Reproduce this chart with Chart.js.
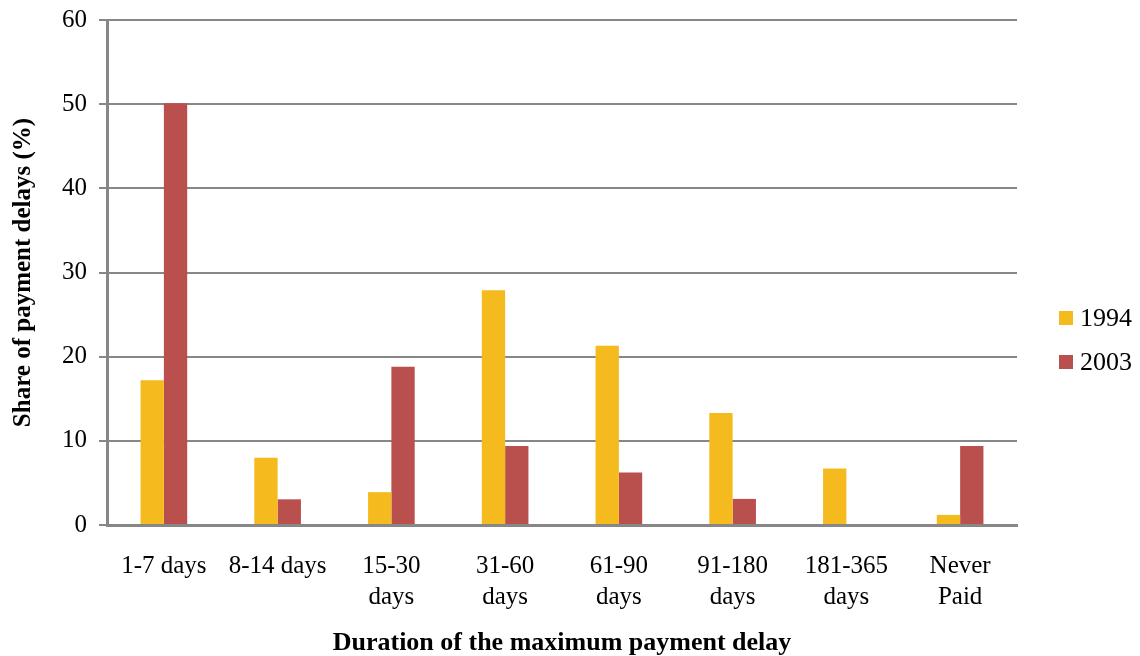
<!DOCTYPE html>
<html>
<head>
<meta charset="utf-8">
<script src="https://cdn.jsdelivr.net/npm/chart.js@4/dist/chart.umd.min.js"></script>
<style>
  html, body { margin: 0; padding: 0; background: #fff; }
</style>
</head>
<body>
<canvas id="chart" width="1140" height="656"></canvas>
<script>
// Payment delay shares, 1994 vs 2003
const categories = [
  "1-7 days", "8-14 days", ["15-30", "days"], ["31-60", "days"],
  ["61-90", "days"], ["91-180", "days"], ["181-365", "days"], ["Never", "Paid"],
];
const share1994 = [17.2, 8.0, 3.9, 27.9, 21.3, 13.3, 6.7, 1.2];
const share2003 = [50.1, 3.05, 18.8, 9.4, 6.25, 3.1, 0, 9.4];
const yTicks = [0, 10, 20, 30, 40, 50, 60];

const FONT = "'Liberation Serif', 'Times New Roman', serif";
const GRID = "#878787";

// legend sits well right of the plot, so draw it by hand
const sideLegend = {
  id: "sideLegend",
  afterDraw(chart) {
    const { ctx } = chart;
    const x = 1059;
    const ys = [318, 362];
    ctx.save();
    ctx.font = `26px ${FONT}`;
    ctx.textBaseline = "middle";
    chart.data.datasets.forEach((ds, i) => {
      ctx.fillStyle = ds.backgroundColor;
      ctx.fillRect(x, ys[i] - 7, 14, 14);
      ctx.fillStyle = "#000";
      ctx.fillText(ds.label, x + 21, ys[i] + 1);
    });
    ctx.restore();
  },
};

new Chart(document.getElementById("chart").getContext("2d"), {
  type: "bar",
  data: {
    labels: categories,
    datasets: [
      { label: "1994", data: share1994, backgroundColor: "#F5BB1E" },
      { label: "2003", data: share2003, backgroundColor: "#BA504E" },
    ],
  },
  plugins: [sideLegend],
  options: {
    responsive: false,
    animation: false,
    categoryPercentage: 0.41,
    barPercentage: 1,
    layout: { padding: { top: 20, right: 123, bottom: 0, left: 0 } },
    plugins: {
      legend: { display: false },
      tooltip: { enabled: false },
    },
    scales: {
      x: {
        grid: { display: false, drawTicks: false },
        border: { color: GRID, width: 3 },
        ticks: {
          color: "#000",
          font: { family: FONT, size: 25, lineHeight: 1.25 },
          padding: 26,
          maxRotation: 0,
          autoSkip: false,
        },
        title: {
          display: true,
          text: "Duration of the maximum payment delay",
          color: "#000",
          font: { family: FONT, size: 26, weight: "bold", lineHeight: 1 },
          padding: { top: 14, bottom: 0 },
        },
        afterFit: (s) => { s.height = 131; },
      },
      y: {
        min: 0,
        max: 60,
        afterBuildTicks: (s) => { s.ticks = yTicks.map((v) => ({ value: v })); },
        grid: { color: GRID, lineWidth: 2, tickLength: 8 },
        border: { color: GRID, width: 3 },
        ticks: {
          color: "#000",
          font: { family: FONT, size: 25 },
          padding: 12,
        },
        title: {
          display: true,
          text: "Share of payment delays (%)",
          color: "#000",
          font: { family: FONT, size: 25, weight: "bold" },
          padding: { top: 9, bottom: 0 },
        },
        afterFit: (s) => {
          s.width = 107;
          s.paddingTop = 0;
          s.paddingBottom = 0;
        },
      },
    },
  },
});
</script>
</body>
</html>
